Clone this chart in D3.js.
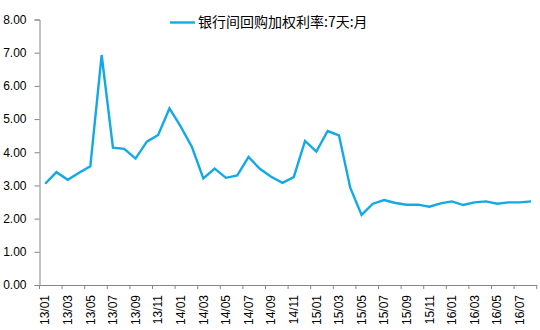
<!DOCTYPE html>
<html>
<head>
<meta charset="utf-8">
<script src="https://cdn.jsdelivr.net/npm/d3@7"></script>
<style>
  html, body { margin: 0; padding: 0; background: #fff; }
  svg { display: block; }
  text { font-family: "Liberation Sans", Arial, sans-serif; fill: #000; }
</style>
</head>
<body>
<svg id="chart" width="540" height="330"></svg>
<script>
// Monthly categories 2013-01 .. 2016-08
const months = [
  "13/01","13/02","13/03","13/04","13/05","13/06","13/07","13/08","13/09","13/10","13/11","13/12",
  "14/01","14/02","14/03","14/04","14/05","14/06","14/07","14/08","14/09","14/10","14/11","14/12",
  "15/01","15/02","15/03","15/04","15/05","15/06","15/07","15/08","15/09","15/10","15/11","15/12",
  "16/01","16/02","16/03","16/04","16/05","16/06","16/07","16/08"
];

// 银行间回购加权利率:7天:月 (%)
const repo7d = [
  3.05, 3.40, 3.17, 3.38, 3.58, 6.93, 4.14, 4.10, 3.81, 4.32, 4.52, 5.32,
  4.77, 4.15, 3.21, 3.51, 3.23, 3.30, 3.86, 3.50, 3.26, 3.08, 3.25, 4.34,
  4.02, 4.64, 4.51, 2.93, 2.11, 2.45, 2.56, 2.47, 2.42, 2.42, 2.36, 2.46,
  2.52, 2.41, 2.49, 2.52, 2.45, 2.49, 2.49, 2.52
];

const yTicks = [0, 1, 2, 3, 4, 5, 6, 7, 8];
const seriesName = "银行间回购加权利率:7天:月";

(function draw() {
  const svg = d3.select("#chart");
  const plotLeft = 39.5, plotRight = 536.7, plotTop = 19.5, plotBottom = 285;
  const axisColor = "#868686";
  const lineColor = "#13a8e6";

  const x = d3.scaleBand().domain(months).range([plotLeft, plotRight]).padding(0);
  const y = d3.scaleLinear().domain([0, 8]).range([plotBottom, plotTop]);
  const bw = x.bandwidth();

  // Y axis
  const yAxis = svg.append("g")
    .attr("transform", `translate(${plotLeft},0)`)
    .call(d3.axisLeft(y).tickValues(yTicks).tickFormat(d3.format(".2f")).tickSize(5).tickPadding(8));
  yAxis.selectAll("path, line").attr("stroke", axisColor);
  yAxis.selectAll("text").style("font-size", "12px").attr("fill", "#000");

  // X axis: tick marks between every second category, labels rotated
  const labelMonths = months.filter((d, i) => i % 2 === 0);
  const xAxis = svg.append("g")
    .attr("transform", `translate(0,${plotBottom})`)
    .call(d3.axisBottom(x).tickValues(labelMonths).tickSize(4).tickSizeOuter(0));
  xAxis.select("path.domain").attr("stroke", axisColor);
  xAxis.selectAll(".tick line")
    .attr("stroke", axisColor)
    .attr("x1", -bw / 2).attr("x2", -bw / 2);
  xAxis.append("line")
    .attr("x1", plotRight).attr("x2", plotRight).attr("y1", 0).attr("y2", 4)
    .attr("stroke", axisColor);
  xAxis.selectAll(".tick text")
    .style("font-size", "12px")
    .attr("fill", "#000")
    .attr("transform", "rotate(-90)")
    .attr("text-anchor", "end")
    .attr("x", -10)
    .attr("y", 0)
    .attr("dy", "0.35em");

  // Series line
  const line = d3.line()
    .x((d, i) => x(months[i]) + bw / 2)
    .y(d => y(d));
  svg.append("path")
    .datum(repo7d)
    .attr("fill", "none")
    .attr("stroke", lineColor)
    .attr("stroke-width", 2.4)
    .attr("stroke-linejoin", "miter")
    .attr("d", line);

  // Legend
  const legend = svg.append("g").attr("transform", "translate(170,22.5)");
  legend.append("line")
    .attr("x1", 0).attr("x2", 25).attr("y1", 0).attr("y2", 0)
    .attr("stroke", lineColor).attr("stroke-width", 2.4);
  legend.append("text")
    .attr("x", 28).attr("y", 0).attr("dy", "0.35em")
    .style("font-family", "'Noto Sans CJK SC', sans-serif")
    .style("font-size", "14px")
    .text(seriesName);
})();
</script>
</body>
</html>
